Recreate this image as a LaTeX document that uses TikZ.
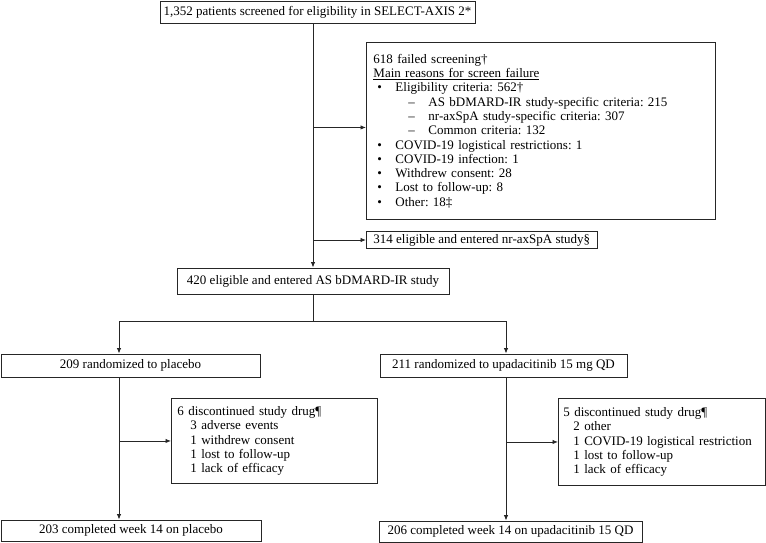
\documentclass[tikz,border=0pt]{standalone}
\usepackage{fontspec}
\setmainfont{Liberation Serif}
\usetikzlibrary{arrows.meta}
\frenchspacing

\begin{document}
\begin{tikzpicture}[x=1pt, y=-1pt,
    box/.style={draw=black!85, line width=0.9pt, inner sep=0pt, font=\fontsize{13}{14.3}\selectfont},
    arr/.style={draw=black!85, line width=0.9pt, -{Latex[length=5.5pt,width=4.5pt]}}]
  \useasboundingbox (0,0) rectangle (766,543);

  \node[box, minimum width=315, minimum height=22] (screen) at (317.5,12) {1,352 patients screened for eligibility in SELECT-AXIS 2*};
  \node[box, anchor=north west, minimum width=349, minimum height=177, text width=335, inner xsep=7, align=left] (fail) at (366,42)
    {618 failed screening†\\
     \underline{Main reasons for screen failure}\\
     \hspace*{4pt}\makebox[18pt][l]{•}Eligibility criteria: 562†\\
     \hspace*{35pt}\makebox[20pt][l]{–}AS bDMARD-IR study-specific criteria: 215\\
     \hspace*{35pt}\makebox[20pt][l]{–}nr-axSpA study-specific criteria: 307\\
     \hspace*{35pt}\makebox[20pt][l]{–}Common criteria: 132\\
     \hspace*{4pt}\makebox[18pt][l]{•}COVID-19 logistical restrictions: 1\\
     \hspace*{4pt}\makebox[18pt][l]{•}COVID-19 infection: 1\\
     \hspace*{4pt}\makebox[18pt][l]{•}Withdrew consent: 28\\
     \hspace*{4pt}\makebox[18pt][l]{•}Lost to follow-up: 8\\
     \hspace*{4pt}\makebox[18pt][l]{•}Other: 18‡};
  \node[box, anchor=west, inner xsep=7, minimum height=17] (nrelig) at (366,240) {314 eligible and entered nr-axSpA study§};
  \node[box, minimum width=272, minimum height=26] (entered) at (313,281) {420 eligible and entered AS bDMARD-IR study};

  \node[box, minimum width=259, minimum height=23] (placebo) at (130.5,365.5) {209 randomized to placebo};
  \node[box, minimum width=247, minimum height=23] (upa) at (503.5,365.5) {211 randomized to upadacitinib 15 mg QD};

  \node[box, anchor=north west, minimum width=206, minimum height=85, text width=194, inner xsep=6, align=left] (discP) at (171,398)
    {6 discontinued study drug¶\\
     \hspace*{13pt}3 adverse events\\
     \hspace*{13pt}1 withdrew consent\\
     \hspace*{13pt}1 lost to follow-up\\
     \hspace*{13pt}1 lack of efficacy};
  \node[box, anchor=north west, minimum width=207, minimum height=87, text width=197, inner xsep=5, align=left] (discU) at (558,398)
    {5 discontinued study drug¶\\
     \hspace*{10pt}2 other\\
     \hspace*{10pt}1 COVID-19 logistical restriction\\
     \hspace*{10pt}1 lost to follow-up\\
     \hspace*{10pt}1 lack of efficacy};

  \node[box, minimum width=260, minimum height=21] (compP) at (131,530.5) {203 completed week 14 on placebo};
  \node[box, minimum width=263, minimum height=21] (compU) at (510.5,531.5) {206 completed week 14 on upadacitinib 15 QD};

  \coordinate (failin) at ([yshift=3.5pt]fail.west);
  \coordinate (armL) at (119,321);
  \coordinate (armR) at (506,321);

  % screening stem
  \draw[arr] (screen.south -| entered.north) -- (entered.north);
  \draw[arr] (failin -| entered.north) -- (failin);
  \draw[arr] (nrelig.west -| entered.north) -- (nrelig.west);
  % randomization
  \draw[arr] (entered.south) |- (armL) -- (armL |- placebo.north);
  \draw[arr] (entered.south) |- (armR) -- (armR |- upa.north);
  % treatment arms
  \draw[arr] (armL |- placebo.south) -- (armL |- compP.north);
  \draw[arr] (armL |- discP.west) -- (discP.west);
  \draw[arr] (armR |- upa.south) -- (armR |- compU.north);
  \draw[arr] (armR |- discU.west) -- (discU.west);
\end{tikzpicture}
\end{document}
